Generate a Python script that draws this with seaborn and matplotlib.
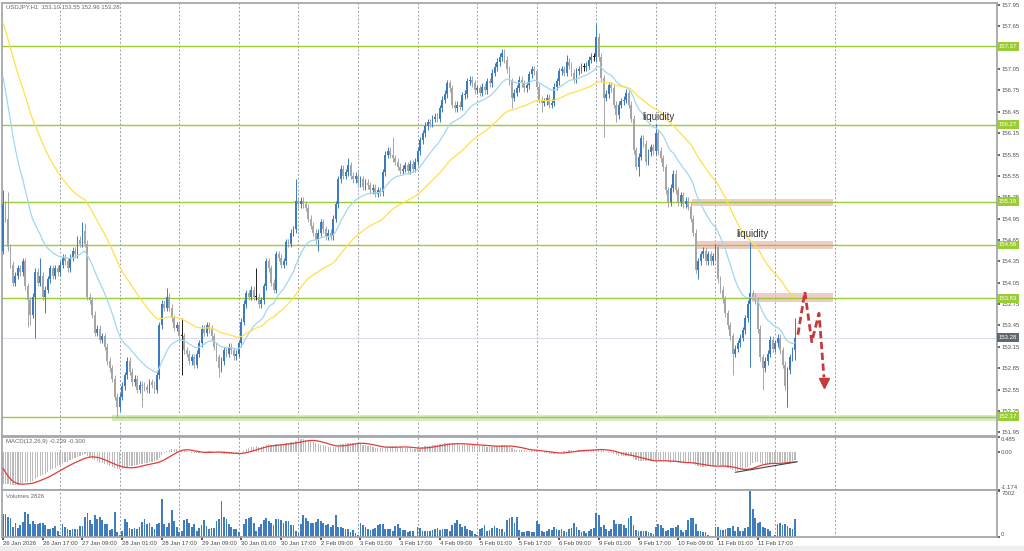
import numpy as np
import pandas as pd
import matplotlib.pyplot as plt
import seaborn as sns
from matplotlib.patches import Rectangle

sns.set_theme(style='white')
plt.rcParams['font.family'] = ['Liberation Sans', 'DejaVu Sans']

# hourly closes, one list per trading day (first bar = 26 Jan 01:00)
jan26 = [155.15, 154.95, 154.55, 154.30, 154.05, 154.15, 154.25, 154.20, 154.35, 154.00, 153.80, 153.60,
         153.85, 154.20, 154.05, 154.15, 153.85, 153.95, 154.10, 154.25, 154.15, 154.25, 154.20]
jan27 = [154.30, 154.40, 154.35, 154.25, 154.40, 154.50, 154.45, 154.65, 154.60, 154.78, 154.60, 153.85,
         153.80, 153.60, 153.35, 153.40, 153.25, 153.30, 153.15, 152.95, 152.85, 152.70, 152.45, 152.30]
jan28 = [152.45, 152.60, 152.75, 152.95, 152.80, 152.65, 152.70, 152.55, 152.62, 152.60, 152.58, 152.55,
         152.65, 152.62, 152.55, 152.75, 153.45, 153.75, 153.70, 153.85, 153.70, 153.55, 153.42, 153.45]
jan29 = [153.30, 153.30, 153.10, 153.05, 152.95, 153.00, 152.90, 153.05, 153.20, 153.40, 153.35, 153.45,
         153.40, 153.30, 153.15, 153.00, 152.85, 152.95, 153.10, 153.05, 153.15, 153.10, 153.02, 153.05]
jan30 = [153.20, 153.50, 153.75, 153.90, 153.85, 153.95, 153.85, 153.85, 153.75, 153.80, 154.00, 154.35,
         154.25, 154.05, 153.95, 154.45, 154.40, 154.30, 154.35, 154.62, 154.60, 154.75, 154.80, 155.20]
feb02 = [155.15, 155.20, 155.15, 155.10, 154.95, 154.85, 154.75, 154.65, 154.75, 154.90, 154.80, 154.70,
         154.75, 154.70, 154.95, 155.15, 155.50, 155.65, 155.55, 155.60, 155.70, 155.55, 155.50, 155.55]
feb03 = [155.45, 155.50, 155.40, 155.45, 155.42, 155.35, 155.38, 155.30, 155.35, 155.32, 155.60, 155.85,
         155.90, 155.85, 155.80, 155.75, 155.68, 155.62, 155.65, 155.70, 155.62, 155.72, 155.65, 155.75]
feb04 = [155.90, 156.05, 156.15, 156.25, 156.30, 156.28, 156.35, 156.38, 156.35, 156.50, 156.62, 156.70,
         156.85, 156.78, 156.55, 156.50, 156.55, 156.52, 156.68, 156.70, 156.88, 156.90, 156.85, 156.75]
feb05 = [156.78, 156.72, 156.80, 156.75, 156.88, 156.85, 157.00, 157.08, 157.15, 157.22, 157.28, 157.18,
         157.05, 156.88, 156.65, 156.72, 156.78, 156.90, 156.85, 156.78, 156.82, 156.98, 157.05, 157.02]
feb06 = [156.80, 156.62, 156.58, 156.60, 156.65, 156.55, 156.58, 156.80, 156.88, 157.02, 157.05, 157.00,
         157.15, 157.10, 157.00, 156.90, 157.02, 157.05, 157.08, 157.08, 157.10, 157.18, 157.22, 157.22]
feb09 = [157.50, 157.22, 156.92, 156.65, 156.70, 156.82, 156.78, 156.55, 156.40, 156.55, 156.60, 156.62,
         156.72, 156.55, 156.35, 155.91, 155.68, 155.82, 156.08, 156.00, 155.75, 155.88, 155.95, 155.90]
feb10 = [156.15, 155.90, 155.80, 155.67, 155.35, 155.18, 155.38, 155.58, 155.35, 155.18, 155.28, 155.15,
         155.20, 155.12, 154.95, 154.75, 154.23, 154.35, 154.45, 154.50, 154.35, 154.45, 154.35, 154.42]
feb11 = [154.55, 154.10, 153.95, 153.82, 153.62, 153.45, 153.30, 153.05, 153.12, 153.20, 153.28, 153.38,
         153.55, 153.75, 153.90, 153.85, 153.80, 153.40, 153.00, 152.85, 152.95, 153.05, 153.25, 153.12]
feb12 = [153.20, 153.28, 153.10, 152.90, 152.60, 152.82, 153.00, 153.10, 153.28]
closes = jan26 + jan27 + jan28 + jan29 + jan30 + feb02 + feb03 + feb04 + feb05 + feb06 + feb09 + feb10 + feb11 + feb12
first_open = 154.50

# wicks that reach well beyond the body
big_highs = {0: 155.35, 2: 155.32, 15: 154.40, 32: 154.90, 33: 154.89, 66: 153.98, 72: 153.55, 102: 154.25,
             118: 155.50, 139: 155.80, 157: 156.10, 201: 157.33, 227: 157.25, 239: 157.68, 263: 156.28,
             287: 154.60, 301: 154.62, 319: 153.55}
big_lows = {10: 153.43, 11: 153.45, 13: 153.28, 17: 153.62, 46: 152.17, 56: 152.30, 72: 152.75, 87: 152.72,
            127: 154.50, 205: 156.50, 217: 156.45, 242: 156.10, 247: 156.30, 256: 155.55, 268: 155.12,
            280: 154.10, 294: 152.75, 301: 152.87, 306: 152.55, 316: 152.30, 319: 152.96}

vol_a = [3465, 3465, 3080, 2915, 1540, 2090, 1430, 1815, 2365, 3905,
         3465, 1925, 2530, 1980, 1925, 2090, 2090, 1815, 1265, 1265,
         1430, 1650, 990, 330, 1925, 1540, 1265, 1100, 1155, 1210,
         1155, 1650, 1705, 3080, 3740, 2640, 1925, 3300, 2750, 3080,
         2640, 1980, 1925, 1100, 1265, 3905, 715, 330, 990, 2750,
         2365, 1430, 1265, 1430, 1155, 1540, 2365, 2750, 1980, 2200,
         1540, 1265, 1925, 2090, 5775, 1925, 1540, 2090, 4125, 2530,
         1540, 715, 990, 2640, 2750, 2090, 1540, 1925, 990, 1430,
         1815, 2640, 1705, 1265, 1375, 1375, 2475, 2750, 5555, 3080,
         2750, 1925, 1540, 1265, 1155, 715, 165, 1980, 2750, 2915,
         3080, 2090, 990, 1540, 1925, 2640, 2915, 2530, 2090, 1815,
         2750, 2750, 2640, 2090, 2530, 2530, 1815, 1815, 990, 550,
         1925, 3410, 2915, 2530, 2090, 2090, 2365, 2750, 2530, 2090,
         1815, 1925, 1540, 1815, 3300, 1540]
vol_b = [1540, 1430, 1265, 1155, 825, 1100, 550, 330, 2090, 1815,
         1540, 1155, 1100, 1155, 1375, 1815, 1925, 1980, 1265, 1155,
         1265, 990, 1705, 1980, 1430, 1100, 1100, 825, 990, 990,
         120, 1540, 1430, 880, 990, 990, 990, 1100, 1155, 1375,
         1100, 1155, 1155, 1155, 990, 1815, 2090, 2640, 1925, 1540,
         1705, 1155, 1100, 990, 440, 330, 1265, 1430, 1815, 990,
         1100, 1375, 1705, 1430, 1155, 1155, 825, 2640, 2915, 3080,
         2090, 3080, 1100, 825, 825, 990, 880, 825, 715, 2530,
         1980, 990, 825, 990, 1155, 1100, 1540, 1265, 1100, 1155,
         990, 825, 1155, 1430, 2090, 1540, 1100, 825, 990, 550,
         990, 1265, 1375, 3630, 3300, 1540, 1815, 1155, 990, 1155,
         2640, 1925, 1925, 1925, 1815, 1430, 2915, 3190, 1815, 1100,
         990, 990, 990, 880, 715, 550, 440, 1540, 1980, 1815,
         1430, 990, 1100, 1375, 1430]
vol_c = [1540, 1815, 1100, 825, 1100, 2640, 2915, 2915, 1980, 880,
         990, 825, 825, 330, 165, 120, 1540, 1540, 1100, 1100,
         1155, 1375, 1375, 1705, 990, 1540, 990, 880, 1430, 1540,
         7002, 4290, 2915, 2200, 2365, 1540, 1430, 1265, 880, 165,
         330, 1980, 2090, 1815, 1980, 1650, 1430, 1155, 2826]
volumes = vol_a + vol_b + vol_c

# moving averages / MACD state at the first visible bar
ma_fast_start = 156.94   # light blue, 20
ma_slow_start = 157.70   # yellow, 50
ema12_start = 155.85
ema26_start = 156.85
macd_before = [0.15, 0.05, -0.15, -0.40, -0.60, -0.75, -0.85, -0.92]

levels = [157.37, 156.27, 155.19, 154.58, 153.83, 152.17]
last_price = 153.28
price_ticks = [151.95, 152.25, 152.55, 152.85, 153.15, 153.45, 153.75, 154.05, 154.35, 154.65, 154.95,
               155.25, 155.55, 155.85, 156.15, 156.45, 156.75, 157.05, 157.65, 157.95]

zone_left = [277.5, 279.5, 301.7]
zone_right = [334.3, 334.3, 334.3]
zone_low = [155.13, 154.52, 153.78]
zone_high = [155.23, 154.64, 153.91]
support_left, support_low, support_high = 44, 152.11, 152.19

liq_x = [264.2, 302.1]
liq_y = [156.38, 154.73]

path_x = [320.2, 323.0, 325.8, 328.7, 330.7]
path_y = [153.32, 153.92, 153.22, 153.62, 152.72]

div_x = [295, 320]
div_y = [-0.62, -0.29]

day_starts = [23, 47, 71, 95, 119, 143, 167, 191, 215, 239, 263, 287, 311, 335]
time_labels = ['26 Jan 2026', '26 Jan 17:00', '27 Jan 09:00', '28 Jan 01:00', '28 Jan 17:00',
               '29 Jan 09:00', '30 Jan 01:00', '30 Jan 17:00', '2 Feb 09:00', '3 Feb 01:00',
               '3 Feb 17:00', '4 Feb 09:00', '5 Feb 01:00', '5 Feb 17:00', '6 Feb 09:00',
               '9 Feb 01:00', '9 Feb 17:00', '10 Feb 09:00', '11 Feb 01:00', '11 Feb 17:00']

# ---- derived series ----
close = np.array(closes)
bars = np.arange(len(close))
open_ = np.concatenate([[first_open], close[:-1]])
wick = 0.05
high = np.maximum(open_, close) + wick
low = np.minimum(open_, close) - wick
for k, v in big_highs.items():
    high[k] = v
for k, v in big_lows.items():
    low[k] = v


def ema_line(values, start, period):
    a = 2 / (period + 1)
    out = [start]
    for v in values[1:]:
        out.append(out[-1] + a * (v - out[-1]))
    return np.array(out)


ma_fast = ema_line(close, ma_fast_start, 20)
ma_slow = ema_line(close, ma_slow_start, 50)

e12, e26 = ema12_start, ema26_start
macd = []
for c in close:
    e12 += 2 / 13 * (c - e12)
    e26 += 2 / 27 * (c - e26)
    macd.append(e12 - e26)
signal = pd.Series(macd_before + macd).rolling(9).mean().to_numpy()[len(macd_before):]
macd = np.array(macd)

# ---- figure ----
W, H = 1024, 551
fig = plt.figure(figsize=(10.24, 5.51), dpi=100)
fig.patch.set_facecolor('white')
fig.patches.append(Rectangle((0, 0), 1, 5 / H, transform=fig.transFigure, color='#eeeeee', zorder=0))
L, Wd = 2 / W, 995 / W
ax = fig.add_axes([L, 1 - 436 / H, Wd, 433 / H])
axm = fig.add_axes([L, 1 - 490 / H, Wd, 53 / H], sharex=ax)
axv = fig.add_axes([L, 1 - 537 / H, Wd, 47 / H], sharex=ax)

spine_col = '#a3a8ad'
for a in (ax, axm, axv):
    for s in a.spines.values():
        s.set_color(spine_col)
        s.set_linewidth(1.3)
    for d in day_starts:
        a.axvline(d, color='#9aa0a8', lw=0.7, ls=(0, (2, 2)), zorder=0.5)
    a.yaxis.tick_right()
    a.tick_params(axis='y', right=True, length=2, pad=1, labelsize=4.3, colors='#555555')
    a.tick_params(axis='x', bottom=False, labelbottom=False)

ax.set_xlim(-0.4, 400.4)
ax.set_ylim(151.897, 157.978)

# zones and levels
ax.add_patch(Rectangle((support_left, support_low), 400 - support_left, support_high - support_low,
                       facecolor='#d6eac4', edgecolor='none', zorder=1))
for x0, x1, y0, y1 in zip(zone_left, zone_right, zone_low, zone_high):
    ax.add_patch(Rectangle((x0, y0), x1 - x0, y1 - y0, facecolor='#efb9b9', alpha=0.75,
                           edgecolor='none', zorder=1))
for lv in levels:
    ax.axhline(lv, color='#9acd32', lw=1.0, zorder=1.5)
ax.axhline(last_price, color='#dcdcec', lw=0.8, zorder=1.2)

# candles
bull = close > open_ + 0.001
bear = close < open_ - 0.001
cols = np.where(bull, '#3b7bbf', np.where(bear, '#a6a6a6', '#202020'))
ax.vlines(bars, low, high, colors=cols, lw=0.7, zorder=3)
body_lo = np.minimum(open_, close)
body_h = np.maximum(np.abs(close - open_), 0.012)
ax.bar(bars, body_h, bottom=body_lo, width=0.74, color=cols, linewidth=0, zorder=4)

sns.lineplot(x=bars, y=ma_fast, ax=ax, color='#a3d6ef', linewidth=0.9, zorder=5)
sns.lineplot(x=bars, y=ma_slow, ax=ax, color='#ffe04a', linewidth=0.9, zorder=5)

# arrow path
ax.plot(path_x, path_y, color='#c33b3b', lw=2.0, ls=(0, (2.6, 1.3)), zorder=6, solid_capstyle='butt')
ax.plot(path_x[-1] + 0.1, path_y[-1] - 0.08, marker='v', ms=6.5, color='#c33b3b', zorder=6)

for x, y in zip(liq_x, liq_y):
    ax.text(x, y, 'liquidity', fontsize=7, color='#333333', ha='center', va='center', zorder=7)

ax.set_yticks(price_ticks)
ax.set_yticklabels([f'{p:.2f}' for p in price_ticks])
for lv in levels:
    ax.annotate(f'{lv:.2f}', xy=(1, lv), xycoords=('axes fraction', 'data'), xytext=(1.2, 0),
                textcoords='offset points', ha='left', va='center', fontsize=4.3, color='white',
                bbox=dict(boxstyle='square,pad=0.3', fc='#9acd32', ec='none'), annotation_clip=False, zorder=8)
ax.annotate(f'{last_price:.2f}', xy=(1, last_price), xycoords=('axes fraction', 'data'), xytext=(1.2, 0),
            textcoords='offset points', ha='left', va='center', fontsize=4.3, color='white',
            bbox=dict(boxstyle='square,pad=0.3', fc='#5d6873', ec='none'), annotation_clip=False, zorder=8)
ax.set_xlabel('')
ax.set_ylabel('')

# MACD
axm.set_ylim(-1.174, 0.485)
axm.bar(bars, macd, width=0.5, color='#bababa', linewidth=0, zorder=2)
sns.lineplot(x=bars, y=signal, ax=axm, color='#e23b3b', linewidth=0.9, zorder=3)
axm.plot(div_x, div_y, color='#444444', lw=0.8, zorder=4)
axm.set_yticks([0.485, 0.0, -1.174])
axm.set_yticklabels(['0.485', '0.00', '-1.174'])
axm.get_yticklabels()[0].set_va('top')
axm.get_yticklabels()[2].set_va('bottom')
axm.set_ylabel('')

# volumes
axv.set_ylim(0, 7002 * 1.03)
axv.bar(bars, volumes, width=0.72, color='#3f7dbf', linewidth=0, zorder=2)
axv.set_yticks([7002, 0])
axv.set_yticklabels(['7002', '0'])
axv.get_yticklabels()[0].set_va('top')
axv.get_yticklabels()[1].set_va('bottom')
axv.set_xticks([16 * i for i in range(len(time_labels))])
axv.set_xticklabels(time_labels, ha='left')
axv.tick_params(axis='x', bottom=True, labelbottom=True, length=2, pad=1, labelsize=4.3, colors='#444444')

fig.text(6 / W, 1 - 7 / H, 'USDJPY,H1  153.10 153.55 152.96 153.28', fontsize=4.3, color='#666666', va='center')
fig.text(6 / W, 1 - 441 / H, 'MACD(12,26,9) -0.239 -0.300', fontsize=4.3, color='#666666', va='center')
fig.text(6 / W, 1 - 496 / H, 'Volumes 2826', fontsize=4.3, color='#666666', va='center')

fig.savefig('out.png', dpi=100)
